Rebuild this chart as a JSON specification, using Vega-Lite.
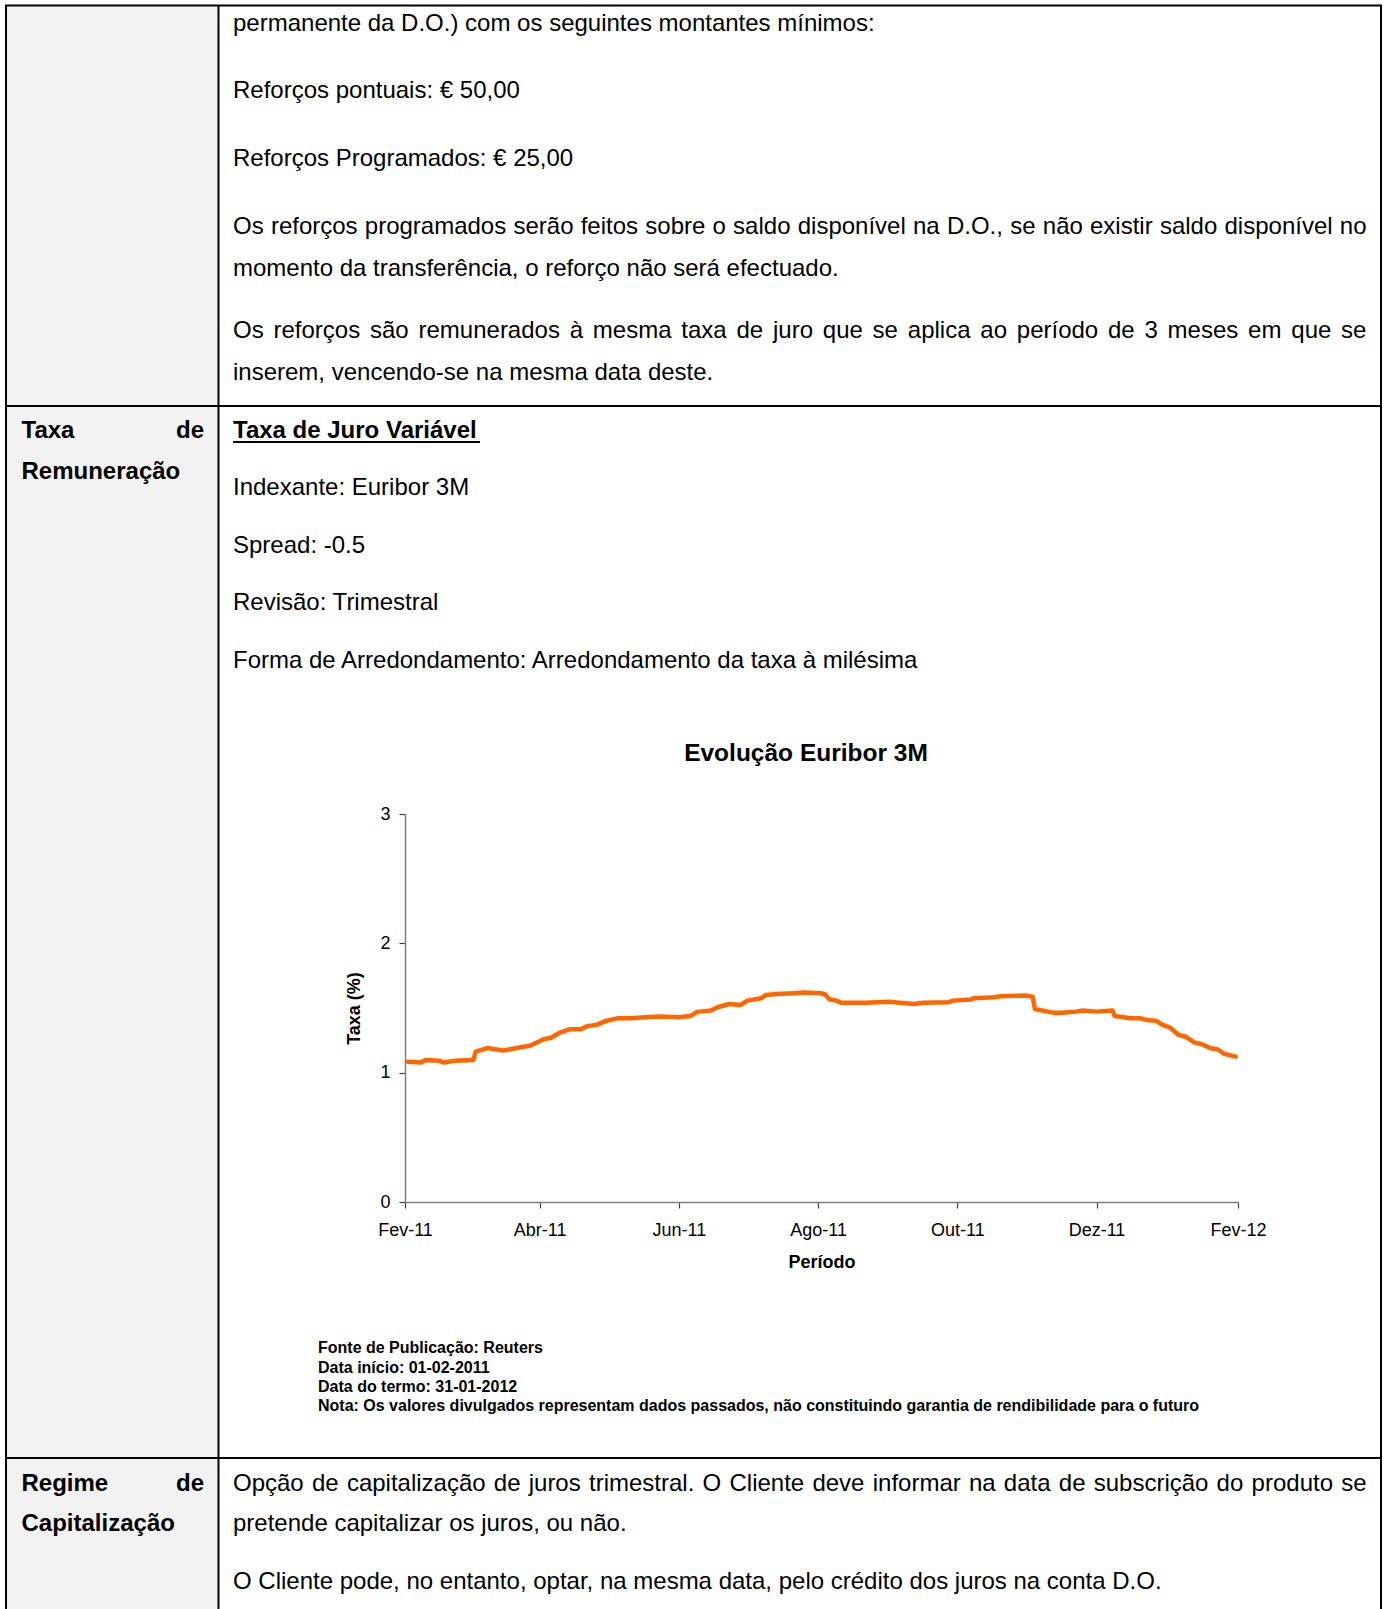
{
  "$schema": "https://vega.github.io/schema/vega-lite/v6.json",
  "width": 1388,
  "height": 1609,
  "autosize": {"type": "none"},
  "padding": 0,
  "background": "white",
  "config": {"view": {"stroke": null}, "font": "Liberation Sans"},
  "datasets": {
    "bg": [{"x1": 7, "x2": 218, "y1": 6, "y2": 1609}],
    "lines": [
      {"x1": 5, "x2": 1382, "y1": 5.5, "y2": 5.5},
      {"x1": 6, "x2": 6, "y1": 5, "y2": 1609},
      {"x1": 1381, "x2": 1381, "y1": 5, "y2": 1609},
      {"x1": 218.5, "x2": 218.5, "y1": 5, "y2": 1609},
      {"x1": 5, "x2": 1382, "y1": 406, "y2": 406},
      {"x1": 5, "x2": 1382, "y1": 1458, "y2": 1458}
    ],
    "underline": [{"x1": 233, "x2": 480, "y1": 442, "y2": 442}],
    "body": [
      {"x": 233, "y": 23.5, "t": "permanente da D.O.) com os seguintes montantes mínimos:"},
      {"x": 233, "y": 91, "t": "Reforços pontuais: € 50,00"},
      {"x": 233, "y": 159, "t": "Reforços Programados: € 25,00"},
      {"x": 233, "y": 226.7, "t": "Os"},
      {"x": 270.9, "y": 226.7, "t": "reforços"},
      {"x": 364.8, "y": 226.7, "t": "programados"},
      {"x": 513.5, "y": 226.7, "t": "serão"},
      {"x": 580.7, "y": 226.7, "t": "feitos"},
      {"x": 645.3, "y": 226.7, "t": "sobre"},
      {"x": 712.6, "y": 226.7, "t": "o"},
      {"x": 733.1, "y": 226.7, "t": "saldo"},
      {"x": 797.7, "y": 226.7, "t": "disponível"},
      {"x": 913, "y": 226.7, "t": "na"},
      {"x": 946.9, "y": 226.7, "t": "D.O.,"},
      {"x": 1010.2, "y": 226.7, "t": "se"},
      {"x": 1042.8, "y": 226.7, "t": "não"},
      {"x": 1090, "y": 226.7, "t": "existir"},
      {"x": 1159.9, "y": 226.7, "t": "saldo"},
      {"x": 1224.5, "y": 226.7, "t": "disponível"},
      {"x": 1339.8, "y": 226.7, "t": "no"},
      {"x": 233, "y": 268.7, "t": "momento da transferência, o reforço não será efectuado."},
      {"x": 233, "y": 331.3, "t": "Os"},
      {"x": 273.5, "y": 331.3, "t": "reforços"},
      {"x": 370, "y": 331.3, "t": "são"},
      {"x": 418.5, "y": 331.3, "t": "remunerados"},
      {"x": 569.7, "y": 331.3, "t": "à"},
      {"x": 592.8, "y": 331.3, "t": "mesma"},
      {"x": 681.3, "y": 331.3, "t": "taxa"},
      {"x": 736.5, "y": 331.3, "t": "de"},
      {"x": 773, "y": 331.3, "t": "juro"},
      {"x": 822.8, "y": 331.3, "t": "que"},
      {"x": 872.6, "y": 331.3, "t": "se"},
      {"x": 907.8, "y": 331.3, "t": "aplica"},
      {"x": 980.3, "y": 331.3, "t": "ao"},
      {"x": 1016.8, "y": 331.3, "t": "período"},
      {"x": 1108, "y": 331.3, "t": "de"},
      {"x": 1144.5, "y": 331.3, "t": "3"},
      {"x": 1167.6, "y": 331.3, "t": "meses"},
      {"x": 1248.1, "y": 331.3, "t": "em"},
      {"x": 1291.3, "y": 331.3, "t": "que"},
      {"x": 1341.1, "y": 331.3, "t": "se"},
      {"x": 233, "y": 373.4, "t": "inserem, vencendo-se na mesma data deste."},
      {"x": 233, "y": 488.3, "t": "Indexante: Euribor 3M"},
      {"x": 233, "y": 545.7, "t": "Spread: -0.5"},
      {"x": 233, "y": 603.2, "t": "Revisão: Trimestral"},
      {"x": 233, "y": 660.6, "t": "Forma de Arredondamento: Arredondamento da taxa à milésima"},
      {"x": 233, "y": 1484.4, "t": "Opção"},
      {"x": 311.9, "y": 1484.4, "t": "de"},
      {"x": 346.9, "y": 1484.4, "t": "capitalização"},
      {"x": 493.8, "y": 1484.4, "t": "de"},
      {"x": 528.7, "y": 1484.4, "t": "juros"},
      {"x": 589, "y": 1484.4, "t": "trimestral."},
      {"x": 702.6, "y": 1484.4, "t": "O"},
      {"x": 729.5, "y": 1484.4, "t": "Cliente"},
      {"x": 812.4, "y": 1484.4, "t": "deve"},
      {"x": 872.7, "y": 1484.4, "t": "informar"},
      {"x": 968.9, "y": 1484.4, "t": "na"},
      {"x": 1003.8, "y": 1484.4, "t": "data"},
      {"x": 1058.8, "y": 1484.4, "t": "de"},
      {"x": 1093.7, "y": 1484.4, "t": "subscrição"},
      {"x": 1216.6, "y": 1484.4, "t": "do"},
      {"x": 1251.6, "y": 1484.4, "t": "produto"},
      {"x": 1341.2, "y": 1484.4, "t": "se"},
      {"x": 233, "y": 1524.4, "t": "pretende capitalizar os juros, ou não."},
      {"x": 233, "y": 1581.8, "t": "O Cliente pode, no entanto, optar, na mesma data, pelo crédito dos juros na conta D.O."}
    ],
    "bold": [
      {"x": 21.5, "y": 430.8, "t": "Taxa"},
      {"x": 21.5, "y": 471.9, "t": "Remuneração"},
      {"x": 233, "y": 430.8, "t": "Taxa de Juro Variável"},
      {"x": 21.5, "y": 1484.4, "t": "Regime"},
      {"x": 21.5, "y": 1524.4, "t": "Capitalização"}
    ],
    "boldR": [
      {"x": 204, "y": 430.8, "t": "de"},
      {"x": 204, "y": 1484.4, "t": "de"}
    ],
    "title": [{"x": 806, "y": 754, "t": "Evolução Euribor 3M"}],
    "notes": [
      {"x": 318, "y": 1348, "t": "Fonte de Publicação: Reuters"},
      {"x": 318, "y": 1367.5, "t": "Data início: 01-02-2011"},
      {"x": 318, "y": 1387, "t": "Data do termo: 31-01-2012"},
      {"x": 318, "y": 1406.4, "t": "Nota: Os valores divulgados representam dados passados, não constituindo garantia de rendibilidade para o futuro"}
    ],
    "euribor": [
      {"date": "2011-02-02", "taxa": 1.085},
      {"date": "2011-02-08", "taxa": 1.078},
      {"date": "2011-02-10", "taxa": 1.098},
      {"date": "2011-02-16", "taxa": 1.093},
      {"date": "2011-02-18", "taxa": 1.078},
      {"date": "2011-02-23", "taxa": 1.093},
      {"date": "2011-03-03", "taxa": 1.098},
      {"date": "2011-03-04", "taxa": 1.162},
      {"date": "2011-03-09", "taxa": 1.19},
      {"date": "2011-03-16", "taxa": 1.172},
      {"date": "2011-03-22", "taxa": 1.19},
      {"date": "2011-03-28", "taxa": 1.21},
      {"date": "2011-04-03", "taxa": 1.26},
      {"date": "2011-04-06", "taxa": 1.27},
      {"date": "2011-04-10", "taxa": 1.31},
      {"date": "2011-04-14", "taxa": 1.335},
      {"date": "2011-04-19", "taxa": 1.335},
      {"date": "2011-04-22", "taxa": 1.36},
      {"date": "2011-04-26", "taxa": 1.37},
      {"date": "2011-04-30", "taxa": 1.40},
      {"date": "2011-05-05", "taxa": 1.42},
      {"date": "2011-05-11", "taxa": 1.42},
      {"date": "2011-05-19", "taxa": 1.43},
      {"date": "2011-05-24", "taxa": 1.435},
      {"date": "2011-06-01", "taxa": 1.428},
      {"date": "2011-06-06", "taxa": 1.438},
      {"date": "2011-06-09", "taxa": 1.47},
      {"date": "2011-06-15", "taxa": 1.48},
      {"date": "2011-06-18", "taxa": 1.506},
      {"date": "2011-06-23", "taxa": 1.531},
      {"date": "2011-06-28", "taxa": 1.523},
      {"date": "2011-07-01", "taxa": 1.557},
      {"date": "2011-07-07", "taxa": 1.575},
      {"date": "2011-07-09", "taxa": 1.60},
      {"date": "2011-07-14", "taxa": 1.608},
      {"date": "2011-07-21", "taxa": 1.614},
      {"date": "2011-07-26", "taxa": 1.619},
      {"date": "2011-08-02", "taxa": 1.614},
      {"date": "2011-08-04", "taxa": 1.606},
      {"date": "2011-08-06", "taxa": 1.568},
      {"date": "2011-08-09", "taxa": 1.557},
      {"date": "2011-08-11", "taxa": 1.541},
      {"date": "2011-08-22", "taxa": 1.541},
      {"date": "2011-09-01", "taxa": 1.549},
      {"date": "2011-09-12", "taxa": 1.531},
      {"date": "2011-09-16", "taxa": 1.541},
      {"date": "2011-09-27", "taxa": 1.544},
      {"date": "2011-09-29", "taxa": 1.557},
      {"date": "2011-10-07", "taxa": 1.565},
      {"date": "2011-10-08", "taxa": 1.575},
      {"date": "2011-10-17", "taxa": 1.583},
      {"date": "2011-10-20", "taxa": 1.591},
      {"date": "2011-10-31", "taxa": 1.596},
      {"date": "2011-11-03", "taxa": 1.588},
      {"date": "2011-11-04", "taxa": 1.493},
      {"date": "2011-11-06", "taxa": 1.485},
      {"date": "2011-11-12", "taxa": 1.464},
      {"date": "2011-11-16", "taxa": 1.464},
      {"date": "2011-11-22", "taxa": 1.472},
      {"date": "2011-11-25", "taxa": 1.48},
      {"date": "2011-12-01", "taxa": 1.472},
      {"date": "2011-12-08", "taxa": 1.48},
      {"date": "2011-12-09", "taxa": 1.438},
      {"date": "2011-12-16", "taxa": 1.421},
      {"date": "2011-12-20", "taxa": 1.421},
      {"date": "2011-12-23", "taxa": 1.408},
      {"date": "2011-12-27", "taxa": 1.402},
      {"date": "2011-12-30", "taxa": 1.369},
      {"date": "2012-01-02", "taxa": 1.351},
      {"date": "2012-01-06", "taxa": 1.292},
      {"date": "2012-01-09", "taxa": 1.278},
      {"date": "2012-01-13", "taxa": 1.232},
      {"date": "2012-01-16", "taxa": 1.222},
      {"date": "2012-01-20", "taxa": 1.189},
      {"date": "2012-01-23", "taxa": 1.181},
      {"date": "2012-01-26", "taxa": 1.145},
      {"date": "2012-01-28", "taxa": 1.137},
      {"date": "2012-01-31", "taxa": 1.124}
    ]
  },
  "layer": [
    {
      "layer": [
        {
          "data": {"name": "bg"},
          "mark": {"type": "rect", "color": "#f2f2f2"},
          "encoding": {
            "x": {"field": "x1", "type": "quantitative", "scale": {"domain": [0, 1388], "range": [0, 1388], "nice": false, "zero": false}, "axis": null},
            "x2": {"field": "x2"},
            "y": {"field": "y1", "type": "quantitative", "scale": {"domain": [0, 1609], "range": [0, 1609], "nice": false, "zero": false}, "axis": null},
            "y2": {"field": "y2"}
          }
        },
        {
          "data": {"name": "lines"},
          "mark": {"type": "rule", "color": "#000000", "strokeWidth": 2},
          "encoding": {
            "x": {"field": "x1", "type": "quantitative", "scale": {"domain": [0, 1388], "range": [0, 1388], "nice": false, "zero": false}, "axis": null},
            "x2": {"field": "x2"},
            "y": {"field": "y1", "type": "quantitative", "scale": {"domain": [0, 1609], "range": [0, 1609], "nice": false, "zero": false}, "axis": null},
            "y2": {"field": "y2"}
          }
        },
        {
          "data": {"name": "underline"},
          "mark": {"type": "rule", "color": "#000000", "strokeWidth": 2},
          "encoding": {
            "x": {"field": "x1", "type": "quantitative", "scale": {"domain": [0, 1388], "range": [0, 1388], "nice": false, "zero": false}, "axis": null},
            "x2": {"field": "x2"},
            "y": {"field": "y1", "type": "quantitative", "scale": {"domain": [0, 1609], "range": [0, 1609], "nice": false, "zero": false}, "axis": null},
            "y2": {"field": "y2"}
          }
        },
        {
          "data": {"name": "body"},
          "mark": {"type": "text", "font": "Liberation Sans", "fontSize": 24, "align": "left", "baseline": "middle", "color": "#000000"},
          "encoding": {
            "x": {"field": "x", "type": "quantitative", "scale": {"domain": [0, 1388], "range": [0, 1388], "nice": false, "zero": false}, "axis": null},
            "y": {"field": "y", "type": "quantitative", "scale": {"domain": [0, 1609], "range": [0, 1609], "nice": false, "zero": false}, "axis": null},
            "text": {"field": "t"}
          }
        },
        {
          "data": {"name": "bold"},
          "mark": {"type": "text", "font": "Liberation Sans", "fontSize": 24, "fontWeight": "bold", "align": "left", "baseline": "middle", "color": "#000000"},
          "encoding": {
            "x": {"field": "x", "type": "quantitative", "scale": {"domain": [0, 1388], "range": [0, 1388], "nice": false, "zero": false}, "axis": null},
            "y": {"field": "y", "type": "quantitative", "scale": {"domain": [0, 1609], "range": [0, 1609], "nice": false, "zero": false}, "axis": null},
            "text": {"field": "t"}
          }
        },
        {
          "data": {"name": "boldR"},
          "mark": {"type": "text", "font": "Liberation Sans", "fontSize": 24, "fontWeight": "bold", "align": "right", "baseline": "middle", "color": "#000000"},
          "encoding": {
            "x": {"field": "x", "type": "quantitative", "scale": {"domain": [0, 1388], "range": [0, 1388], "nice": false, "zero": false}, "axis": null},
            "y": {"field": "y", "type": "quantitative", "scale": {"domain": [0, 1609], "range": [0, 1609], "nice": false, "zero": false}, "axis": null},
            "text": {"field": "t"}
          }
        },
        {
          "data": {"name": "title"},
          "mark": {"type": "text", "font": "Liberation Sans", "fontSize": 24.5, "fontWeight": "bold", "align": "center", "baseline": "middle", "color": "#000000"},
          "encoding": {
            "x": {"field": "x", "type": "quantitative", "scale": {"domain": [0, 1388], "range": [0, 1388], "nice": false, "zero": false}, "axis": null},
            "y": {"field": "y", "type": "quantitative", "scale": {"domain": [0, 1609], "range": [0, 1609], "nice": false, "zero": false}, "axis": null},
            "text": {"field": "t"}
          }
        },
        {
          "data": {"name": "notes"},
          "mark": {"type": "text", "font": "Liberation Sans", "fontSize": 16, "fontWeight": "bold", "align": "left", "baseline": "middle", "color": "#000000"},
          "encoding": {
            "x": {"field": "x", "type": "quantitative", "scale": {"domain": [0, 1388], "range": [0, 1388], "nice": false, "zero": false}, "axis": null},
            "y": {"field": "y", "type": "quantitative", "scale": {"domain": [0, 1609], "range": [0, 1609], "nice": false, "zero": false}, "axis": null},
            "text": {"field": "t"}
          }
        }
      ]
    },
    {
      "data": {"name": "euribor"},
      "mark": {"type": "line", "color": "#ff6600", "strokeWidth": 4.5, "strokeJoin": "round", "strokeCap": "round"},
      "encoding": {
        "x": {
          "field": "date",
          "type": "temporal",
          "scale": {
            "type": "utc",
            "domain": [{"year": 2011, "month": 2, "date": 1, "utc": true}, {"year": 2012, "month": 2, "date": 1, "utc": true}],
            "range": [405, 1238]
          },
          "axis": {
            "orient": "bottom",
            "offset": -407,
            "title": "Período",
            "titleFont": "Liberation Sans",
            "titleFontSize": 18,
            "titleFontWeight": "bold",
            "titleColor": "#000000",
            "titlePadding": 14,
            "labelFont": "Liberation Sans",
            "labelFontSize": 18,
            "labelColor": "#000000",
            "labelPadding": 13,
            "labelFlush": false,
            "labelOverlap": false,
            "values": [
              {"year": 2011, "month": 2, "date": 1, "utc": true},
              {"year": 2011, "month": 4, "date": 1, "utc": true},
              {"year": 2011, "month": 6, "date": 1, "utc": true},
              {"year": 2011, "month": 8, "date": 1, "utc": true},
              {"year": 2011, "month": 10, "date": 1, "utc": true},
              {"year": 2011, "month": 12, "date": 1, "utc": true},
              {"year": 2012, "month": 2, "date": 1, "utc": true}
            ],
            "labelExpr": "['Jan','Fev','Mar','Abr','Mai','Jun','Jul','Ago','Set','Out','Nov','Dez'][utcmonth(datum.value)] + '-' + utcFormat(datum.value, '%y')",
            "grid": false,
            "domainColor": "#808080",
            "domainWidth": 1.5,
            "tickColor": "#404040",
            "tickSize": 6,
            "tickWidth": 1.2
          }
        },
        "y": {
          "field": "taxa",
          "type": "quantitative",
          "scale": {"domain": [0, 3], "range": [1202, 814], "nice": false, "zero": true},
          "axis": {
            "orient": "left",
            "offset": -405,
            "title": "Taxa (%)",
            "titleFont": "Liberation Sans",
            "titleFontSize": 18,
            "titleFontWeight": "bold",
            "titleColor": "#000000",
            "titlePadding": 16,
            "labelFont": "Liberation Sans",
            "labelFontSize": 18,
            "labelColor": "#000000",
            "labelPadding": 9,
            "labelFlush": false,
            "values": [0, 1, 2, 3],
            "format": "d",
            "grid": false,
            "domainColor": "#808080",
            "domainWidth": 1.5,
            "tickColor": "#404040",
            "tickSize": 6,
            "tickWidth": 1.2
          }
        }
      }
    }
  ],
  "resolve": {"scale": {"x": "independent", "y": "independent"}}
}
